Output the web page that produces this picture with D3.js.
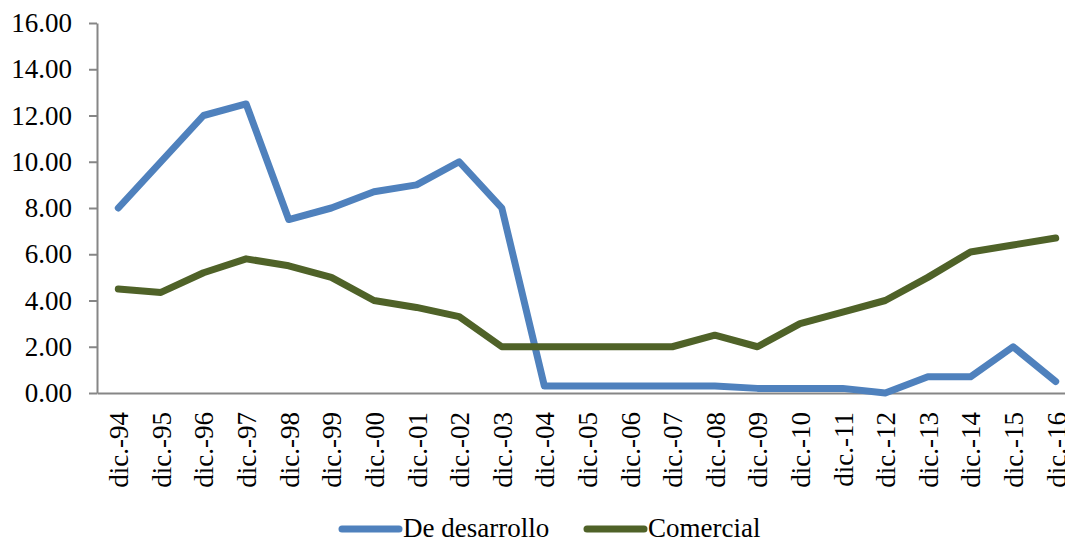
<!DOCTYPE html>
<html>
<head>
<meta charset="utf-8">
<script src="https://cdn.jsdelivr.net/npm/d3@7"></script>
<style>
  body { margin: 0; background: #fff; }
  svg text { font-family: "Liberation Serif", serif; fill: #000; }
  .axis path, .axis line { stroke: #868686; stroke-width: 2; }
</style>
</head>
<body>
<div id="line-graph"></div>
<script>
const categories = ["dic.-94","dic.-95","dic.-96","dic.-97","dic.-98","dic.-99","dic.-00","dic.-01","dic.-02","dic.-03","dic.-04","dic.-05","dic.-06","dic.-07","dic.-08","dic.-09","dic.-10","dic.-11","dic.-12","dic.-13","dic.-14","dic.-15","dic.-16"];
const desarrollo = [8.0,10.0,12.0,12.5,7.5,8.0,8.7,9.0,10.0,8.0,0.3,0.3,0.3,0.3,0.3,0.2,0.2,0.2,0.0,0.7,0.7,2.0,0.5];
const comercial  = [4.5,4.35,5.2,5.8,5.5,5.0,4.0,3.7,3.3,2.0,2.0,2.0,2.0,2.0,2.5,2.0,3.0,3.5,4.0,5.0,6.1,6.4,6.7];
const yTicks = [0,2,4,6,8,10,12,14,16];
const seriesNames = ["De desarrollo","Comercial"];
const seriesColors = ["#4F81BD","#4F6228"];

const width = 1065;
const height = 542;
const plotLeft = 97, plotRight = 1077, plotTop = 23, plotBottom = 393;

const svg = d3.select("#line-graph")
    .append("svg")
    .attr("width",width)
    .attr("height",height);

const xScale = d3.scalePoint().domain(categories).range([plotLeft,plotRight]).padding(0.5);
const yScale = d3.scaleLinear().domain([0,16]).range([plotBottom,plotTop]);

// y axis
svg.append("g")
    .attr("class","axis")
    .attr("transform",`translate(${plotLeft},0)`)
    .call(d3.axisLeft(yScale).tickValues(yTicks).tickFormat(d3.format(".2f")).tickSize(8).tickSizeOuter(0).tickPadding(17))
    .selectAll("text")
    .style("font-size","27px");

// x axis
const xAxis = svg.append("g")
    .attr("class","axis")
    .attr("transform",`translate(0,${plotBottom})`)
    .call(d3.axisBottom(xScale).tickSize(0).tickSizeOuter(0));

xAxis.selectAll("text")
    .attr("transform","rotate(-90)")
    .attr("text-anchor","end")
    .attr("x",-19)
    .attr("y",0)
    .attr("dy","0.35em")
    .style("font-size","27px");

const line = d3.line()
    .x((d,i)=>xScale(categories[i]))
    .y(d=>yScale(d));

[desarrollo,comercial].forEach((s,k)=>
{
    svg.append("path")
        .datum(s)
        .attr("fill","none")
        .attr("stroke",seriesColors[k])
        .attr("stroke-width",7)
        .attr("stroke-linejoin","round")
        .attr("stroke-linecap","round")
        .attr("d",line);
});

// legend
const legendX = [342,587];
const legend = svg.append("g");
seriesNames.forEach((name,k)=>
{
    legend.append("line")
        .attr("x1",legendX[k]).attr("x2",legendX[k]+57)
        .attr("y1",529).attr("y2",529)
        .attr("stroke",seriesColors[k])
        .attr("stroke-width",7)
        .attr("stroke-linecap","round");
    legend.append("text")
        .attr("x",legendX[k]+61)
        .attr("y",528)
        .attr("dy","0.33em")
        .style("font-size","27px")
        .text(name);
});
</script>
</body>
</html>
